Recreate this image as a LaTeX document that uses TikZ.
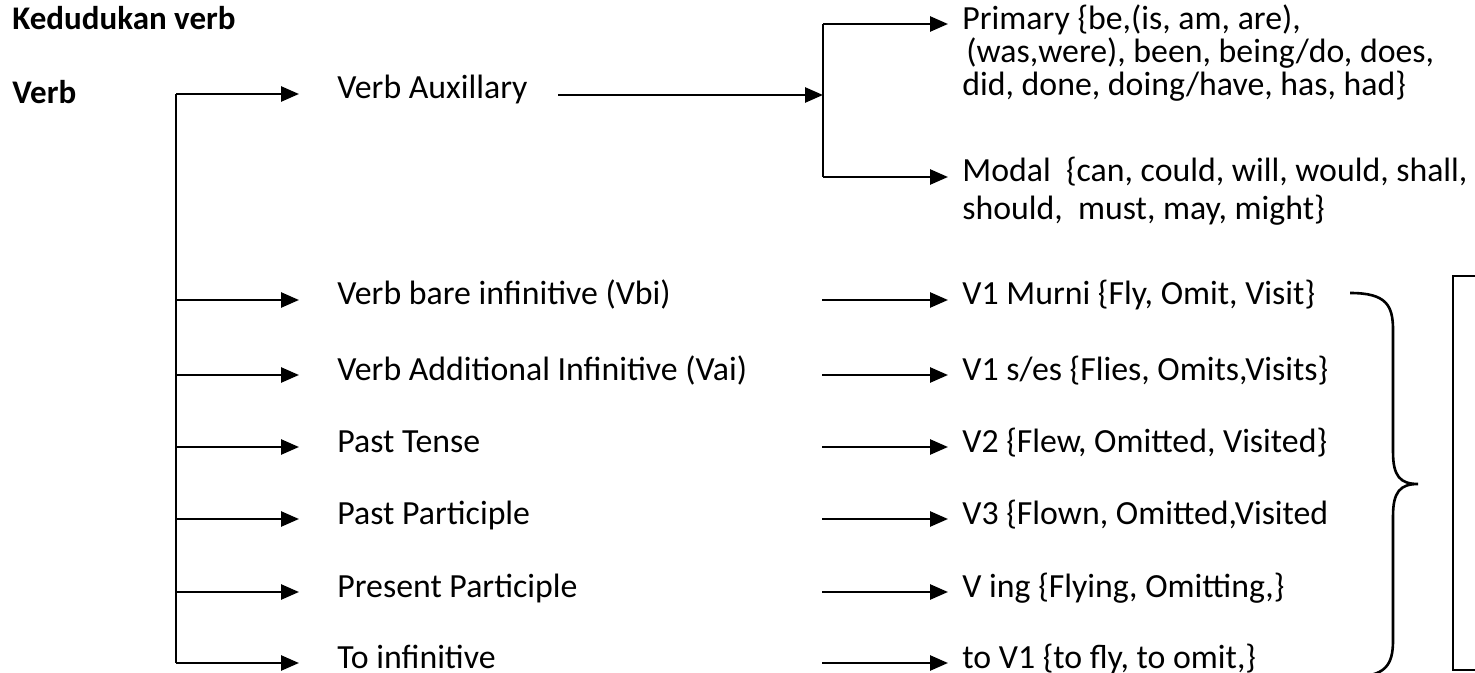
\documentclass[tikz,border=0pt]{standalone}
\usepackage{fontspec}
\setmainfont{Carlito}
\usetikzlibrary{arrows.meta}
\tikzset{
  line/.style={draw=black, line width=1.3pt},
  arr/.style={line, -{Triangle[length=9pt,width=7.5pt]}},
  lbl/.style={anchor=base west, inner sep=0pt, font=\fontsize{16.9}{16.5}\selectfont},
  blbl/.style={lbl, font=\fontsize{16.5}{16.5}\selectfont\bfseries},
  mlbl/.style={lbl, align=left}
}

\begin{document}
\begin{tikzpicture}[x=0.5pt,y=-0.5pt]
  \useasboundingbox (0,0) rectangle (1475,673);
  \clip (0,0) rectangle (1475,673);

  \node[blbl] (title) at (12,30) {Kedudukan verb};
  \node[blbl] (verb) at (12,104) {Verb};

  % spine of the left tree
  \coordinate (s1) at (176,94);
  \coordinate (s2) at (176,300);
  \coordinate (s3) at (176,375);
  \coordinate (s4) at (176,447);
  \coordinate (s5) at (176,519);
  \coordinate (s6) at (176,592);
  \coordinate (s7) at (176,663);
  \draw[line] (s1) -- (s7);

  \coordinate (e1) at (299,94);
  \coordinate (e2) at (299,300);
  \coordinate (e3) at (299,375);
  \coordinate (e4) at (299,447);
  \coordinate (e5) at (299,519);
  \coordinate (e6) at (299,592);
  \coordinate (e7) at (299,663);
  \draw[arr] (s1) -- (e1);
  \draw[arr] (s2) -- (e2);
  \draw[arr] (s3) -- (e3);
  \draw[arr] (s4) -- (e4);
  \draw[arr] (s5) -- (e5);
  \draw[arr] (s6) -- (e6);
  \draw[arr] (s7) -- (e7);

  \node[lbl] (aux) at (337,99) {Verb Auxillary};
  \node[lbl] (vbi) at (337,305) {Verb bare infinitive (Vbi)};
  \node[lbl] (vai) at (337,380) {Verb Additional Infinitive (Vai)};
  \node[lbl] (past) at (337,452) {Past Tense};
  \node[lbl] (pp) at (337,524) {Past Participle};
  \node[lbl] (presp) at (337,597) {Present Participle};
  \node[lbl] (toinf) at (337,668) {To infinitive};

  % auxiliary branch
  \coordinate (a0) at (558,95);
  \coordinate (b0) at (823,95);
  \coordinate (b1) at (823,24);
  \coordinate (b2) at (823,177);
  \coordinate (p1) at (948,24);
  \coordinate (p2) at (948,177);
  \draw[arr] (a0) -- (b0);
  \draw[line] (b1) -- (b2);
  \draw[arr] (b1) -- (p1);
  \draw[arr] (b2) -- (p2);

  % base of a multi-line node is its last line
  \node[mlbl] (primary) at (962,96) {Primary \{be,(is, am, are),\\
    \hspace{2pt}(was,were), been, being/do, does,\\
    did, done, doing/have, has, had\}};
  \node[mlbl] (modal) at (962,220) {Modal\ \ \{can, could, will, would, shall,\\[2.5pt]
    should,\ \ must, may, might\}};

  % right column
  \coordinate (r2) at (822,300);
  \coordinate (r3) at (822,375);
  \coordinate (r4) at (822,447);
  \coordinate (r5) at (822,519);
  \coordinate (r6) at (822,592);
  \coordinate (r7) at (822,663);
  \coordinate (q2) at (948,300);
  \coordinate (q3) at (948,375);
  \coordinate (q4) at (948,447);
  \coordinate (q5) at (948,519);
  \coordinate (q6) at (948,592);
  \coordinate (q7) at (948,663);
  \draw[arr] (r2) -- (q2);
  \draw[arr] (r3) -- (q3);
  \draw[arr] (r4) -- (q4);
  \draw[arr] (r5) -- (q5);
  \draw[arr] (r6) -- (q6);
  \draw[arr] (r7) -- (q7);

  \node[lbl] (v1) at (962,305) {V1 Murni \{Fly, Omit, Visit\}};
  \node[lbl] (v1s) at (962,380) {V1 s/es \{Flies, Omits,Visits\}};
  \node[lbl] (v2) at (962,452) {V2 \{Flew, Omitted, Visited\}};
  \node[lbl] (v3) at (962,524) {V3 \{Flown, Omitted,Visited};
  \node[lbl] (ving) at (962,597) {V ing \{Flying, Omitting,\}};
  \node[lbl] (tov1) at (962,668) {to V1 \{to fly, to omit,\}};

  % brace and box
  \draw[line] (1350,293) .. controls (1386,293) and (1393,305) .. (1393,330)
    -- (1393,452) .. controls (1393,476) and (1400,484) .. (1418,484)
    .. controls (1400,484) and (1393,492) .. (1393,516)
    -- (1393,640) .. controls (1393,665) and (1386,677) .. (1350,677);
  \draw[line] (1453,276) rectangle (1500,670);
\end{tikzpicture}
\end{document}
